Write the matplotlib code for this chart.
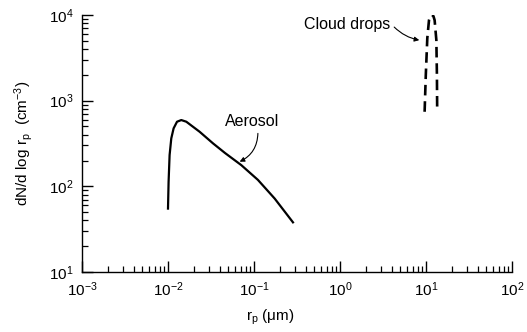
import matplotlib
matplotlib.use("Agg")
import matplotlib.pyplot as plt
from matplotlib.ticker import LogLocator, NullFormatter

plt.rcParams['font.family'] = ['Liberation Sans', 'DejaVu Sans']
plt.rcParams['mathtext.fontset'] = 'custom'
plt.rcParams['mathtext.rm'] = 'Liberation Sans'
plt.rcParams['mathtext.it'] = 'Liberation Sans'

# Aerosol distribution (radius in um, dN/dlog r in cm^-3)
aerosol_r = [0.0100, 0.01016, 0.01044, 0.01092, 0.01162, 0.01273, 0.01428, 0.01633,
             0.0233, 0.0333, 0.046, 0.0711, 0.111, 0.174, 0.284]
aerosol_n = [55, 113, 232, 363, 475, 568, 594, 568, 434, 318, 245, 177, 119, 72, 38]

# Cloud drop distribution
cloud_r = [9.64, 9.95, 10.36, 10.84, 11.2, 11.75, 12.2, 12.6, 13.2, 13.4, 13.5]
cloud_n = [742, 1990, 5370, 8710, 9700, 10000, 9700, 8710, 5090, 1990, 742]

fig = plt.figure(figsize=(5.27, 3.32), dpi=100)
ax = fig.add_axes([0.1556, 0.1807, 0.8159, 0.7741])

ax.plot(aerosol_r, aerosol_n, color='black', lw=1.6, solid_joinstyle='round')
ax.plot(cloud_r, cloud_n, color='black', lw=1.9, ls=(0, (4, 2.2)))

ax.set_xscale('log')
ax.set_yscale('log')
ax.set_xlim(1e-3, 1e2)
ax.set_ylim(1e1, 1e4)

for s in ['top', 'right']:
    ax.spines[s].set_visible(False)
for s in ['left', 'bottom']:
    ax.spines[s].set_linewidth(1.0)

ax.xaxis.set_minor_locator(LogLocator(base=10, subs=range(2, 10), numticks=20))
ax.yaxis.set_minor_locator(LogLocator(base=10, subs=range(2, 10), numticks=20))
ax.xaxis.set_minor_formatter(NullFormatter())
ax.yaxis.set_minor_formatter(NullFormatter())
ax.tick_params(which='major', direction='in', length=8, width=1.0, labelsize=11, pad=6)
ax.tick_params(which='minor', direction='in', length=4.5, width=0.9)

ax.set_xlabel(r'r$_\mathregular{p}$ ($\mathregular{\mu}$m)', fontsize=11, labelpad=6)
ax.xaxis.set_label_coords(0.437, -0.14)
ax.set_ylabel(r'dN/d log r$_\mathregular{p}$  (cm$^\mathregular{-3}$)', fontsize=11, labelpad=10)

ax.text(0.0955, 578, 'Aerosol', fontsize=11.5, ha='center', va='center')
ax.annotate('', xy=(0.0681, 194), xytext=(0.111, 415),
            arrowprops=dict(arrowstyle='-|>', color='black', lw=0.8,
                            mutation_scale=7, shrinkA=0, shrinkB=0,
                            connectionstyle='arc3,rad=-0.3'))
ax.text(1.22, 7830, 'Cloud drops', fontsize=11.5, ha='center', va='center')
ax.annotate('', xy=(8.36, 5090), xytext=(4.27, 7230),
            arrowprops=dict(arrowstyle='-|>', color='black', lw=0.8,
                            mutation_scale=7, shrinkA=0, shrinkB=0,
                            connectionstyle='arc3,rad=0.15'))

fig.savefig('out.png', dpi=100)
